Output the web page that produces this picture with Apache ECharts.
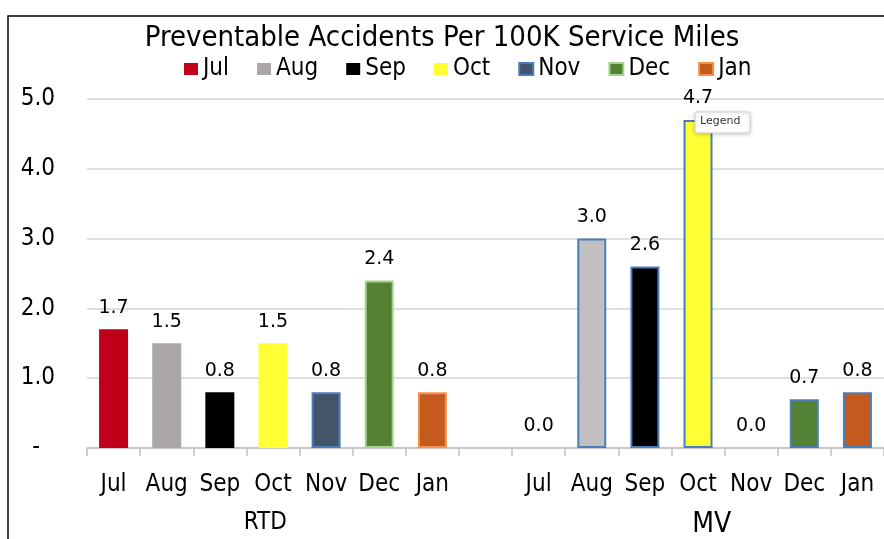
<!DOCTYPE html>
<html>
<head>
<meta charset="utf-8">
<script src="https://cdn.jsdelivr.net/npm/echarts@6/dist/echarts.min.js"></script>
<style>
  html, body { margin: 0; padding: 0; background: #fff; }
  #chart { width: 884px; height: 539px; }
</style>
</head>
<body>
<div id="chart"></div>
<script>
const FONT = '"DejaVu Sans Condensed", "Liberation Sans Narrow", "DejaVu Sans", sans-serif';

// data
const months = ['Jul', 'Aug', 'Sep', 'Oct', 'Nov', 'Dec', 'Jan'];
const groups = ['RTD', 'MV'];
const rtdValues = [1.7, 1.5, 0.8, 1.5, 0.8, 2.4, 0.8];
const mvValues = [0.0, 3.0, 2.6, 4.7, 0.0, 0.7, 0.8];

// styles
const monthColors = ['#c00018', '#aba7a7', '#000000', '#ffff33', '#44546a', '#548235', '#c55a1e'];
const mvColors = ['#c00018', '#bfbfbf', '#000000', '#ffff33', '#44546a', '#548235', '#c55a1e'];
const rtdBorders = [null, null, null, null, '#4a7ebb', '#a9d18e', '#f4914a'];
const mvBorder = '#4a7ebb';

// categories: RTD months, one empty slot, MV months
const categories = [...months, '', ...months];
const mvOffset = months.length + 1;

const chart = echarts.init(document.getElementById('chart'));

const series = months.map((m, i) => {
  const data = categories.map(() => '-');
  data[i] = rtdValues[i];
  data[mvOffset + i] = {
    value: mvValues[i],
    itemStyle: {
      color: mvColors[i],
      borderColor: mvBorder,
      borderWidth: mvValues[i] > 0 ? 2 : 0, // no outline for empty bars
    },
  };
  return {
    name: m,
    type: 'bar',
    stack: 'all',
    barWidth: 29,
    itemStyle: {
      color: monthColors[i],
      borderColor: rtdBorders[i] || monthColors[i],
      borderWidth: rtdBorders[i] ? 2 : 0,
    },
    label: {
      show: true,
      position: 'top',
      distance: 12,
      fontFamily: '"DejaVu Sans", sans-serif',
      fontSize: 19,
      color: '#000',
      formatter: (p) => Number(p.value).toFixed(1),
    },
    data,
  };
});

const option = {
  animation: false,
  title: {
    text: 'Preventable Accidents Per 100K Service Miles',
    left: 'center',
    top: 19,
    textStyle: { fontFamily: FONT, fontSize: 29, fontWeight: 'normal', color: '#000' },
  },
  legend: {
    data: months,
    left: 179,
    top: 52,
    icon: 'rect',
    itemWidth: 14,
    itemHeight: 12,
    itemGap: 28,
    textStyle: { fontFamily: FONT, fontSize: 24, color: '#000' },
  },
  grid: { left: 87, top: 99, width: 802, height: 352 },
  xAxis: [
    {
      type: 'category',
      data: categories,
      axisLine: { lineStyle: { color: '#bfbfbf', width: 1.5 } },
      axisTick: { show: true, interval: 0, length: 8, lineStyle: { color: '#bfbfbf', width: 1.5 } },
      axisLabel: { interval: 0, margin: 25, fontFamily: FONT, fontSize: 24, color: '#000' },
    },
    {
      type: 'category',
      data: groups,
      position: 'bottom',
      axisLine: { show: false },
      axisTick: { show: false },
      axisLabel: {
        interval: 0,
        margin: 63,
        formatter: (v) => (v === 'RTD' ? '{rtd|' + v + '}' : '{mv|' + v + '}'),
        rich: {
          rtd: { fontFamily: FONT, fontSize: 24, color: '#000', padding: [0, 42, 0, 0] },
          mv: { fontFamily: FONT, fontSize: 28, color: '#000', padding: [0, 0, 0, 54] },
        },
      },
    },
  ],
  yAxis: {
    type: 'value',
    min: 0,
    max: 5,
    interval: 1,
    axisLine: { show: false },
    axisTick: { show: false },
    splitLine: { lineStyle: { color: '#d4d4d4', width: 1.5 } },
    axisLabel: {
      margin: 32,
      fontFamily: FONT,
      fontSize: 24,
      color: '#000',
      formatter: (v) => (v === 0 ? '{d|-}' : v.toFixed(1)),
      rich: { d: { fontFamily: FONT, fontSize: 24, color: '#000', padding: [0, 15, 0, 0] } },
    },
  },
  graphic: [
    {
      type: 'rect',
      shape: { x: 8, y: 16, width: 1000, height: 700 },
      style: { fill: 'none', stroke: '#000', lineWidth: 1.5 },
      silent: true,
      z: 100,
    },
    {
      type: 'group',
      x: 695,
      y: 112,
      z: 100,
      children: [
        {
          type: 'rect',
          z: 100,
          shape: { width: 55, height: 21, r: 2 },
          style: {
            fill: '#fff', stroke: '#d0d0d0', lineWidth: 1,
            shadowBlur: 4, shadowColor: 'rgba(0,0,0,0.2)', shadowOffsetY: 1,
          },
        },
        {
          type: 'text',
          z: 101,
          x: 5,
          y: 4,
          style: { text: 'Legend', fontFamily: '"DejaVu Sans", sans-serif', fontSize: 11, fill: '#333' },
        },
      ],
    },
  ],
  series,
};

chart.setOption(option);
</script>
</body>
</html>
